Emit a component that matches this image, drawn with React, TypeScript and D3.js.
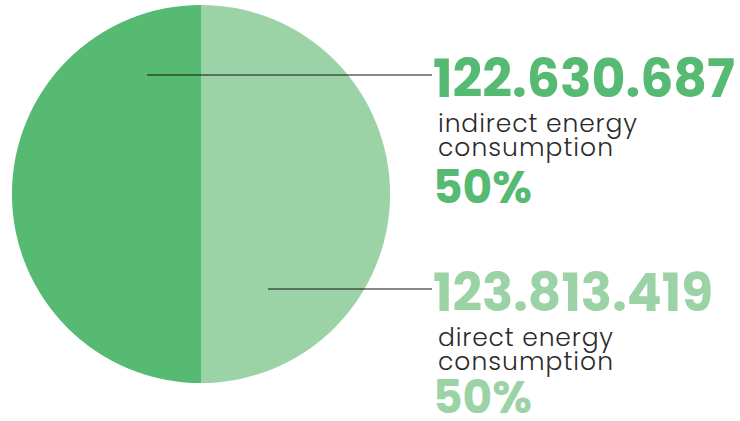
import React from "react";
import * as d3 from "d3";

const categories = ["indirect energy consumption", "direct energy consumption"];
const valueLabels = ["122.630.687", "123.813.419"];
const percents = [50, 50];
const colors = ["#57ba73", "#9bd3a7"];

const W = 740;
const H = 421;

export default function App() {
  const cx = 201, cy = 194, r = 189;
  // direct on the right (clockwise from top), indirect on the left
  const order = [1, 0];
  const pie = d3.pie<number>().sort(null).value((i) => percents[i]);
  const arcs = pie(order);
  const arcGen = d3.arc<d3.PieArcDatum<number>>().innerRadius(0).outerRadius(r);

  const labelY = [75, 289];
  const lineStartX = [147, 268];
  const numBase = [97, 311];
  const pctBase = [203, 413];
  const numWidth = [302, 280];
  const lab1W = [199, 175];
  const lab2W = [175, 175];

  return (
    <svg width={W} height={H} style={{ position: "absolute", left: 0, top: 0 }}>
      <g transform={`translate(${cx},${cy})`}>
        {arcs.map((a) => (
          <path key={a.data} d={arcGen(a) || ""} fill={colors[a.data]} />
        ))}
      </g>
      {categories.map((c, i) => {
        const words = c.split(" ");
        const line1 = words.slice(0, 2).join(" ");
        const line2 = words.slice(2).join(" ");
        const b = numBase[i];
        return (
          <g key={c}>
            <line x1={lineStartX[i]} x2={432} y1={labelY[i]} y2={labelY[i]} stroke="#111" strokeWidth={1} />
            <text
              x={433}
              y={b}
              fill={colors[i]}
              fontFamily="Poppins, 'Open Sans', sans-serif"
              fontWeight={700}
              fontSize={53}
              textLength={numWidth[i]}
              lengthAdjust="spacingAndGlyphs"
            >
              {valueLabels[i]}
            </text>
            <text x={438} y={b + 35} fill="#2b2b2b" fontFamily="Poppins, 'Open Sans', sans-serif" fontWeight={300} fontSize={25}
              textLength={lab1W[i]} lengthAdjust="spacing">
              {line1}
            </text>
            <text x={438} y={b + 59} fill="#2b2b2b" fontFamily="Poppins, 'Open Sans', sans-serif" fontWeight={300} fontSize={25}
              textLength={lab2W[i]} lengthAdjust="spacing">
              {line2}
            </text>
            <text
              x={433}
              y={pctBase[i]}
              fill={colors[i]}
              fontFamily="Poppins, 'Open Sans', sans-serif"
              fontWeight={700}
              fontSize={46}
              textLength={99}
              lengthAdjust="spacingAndGlyphs"
            >
              {percents[i]}%
            </text>
          </g>
        );
      })}
    </svg>
  );
}
